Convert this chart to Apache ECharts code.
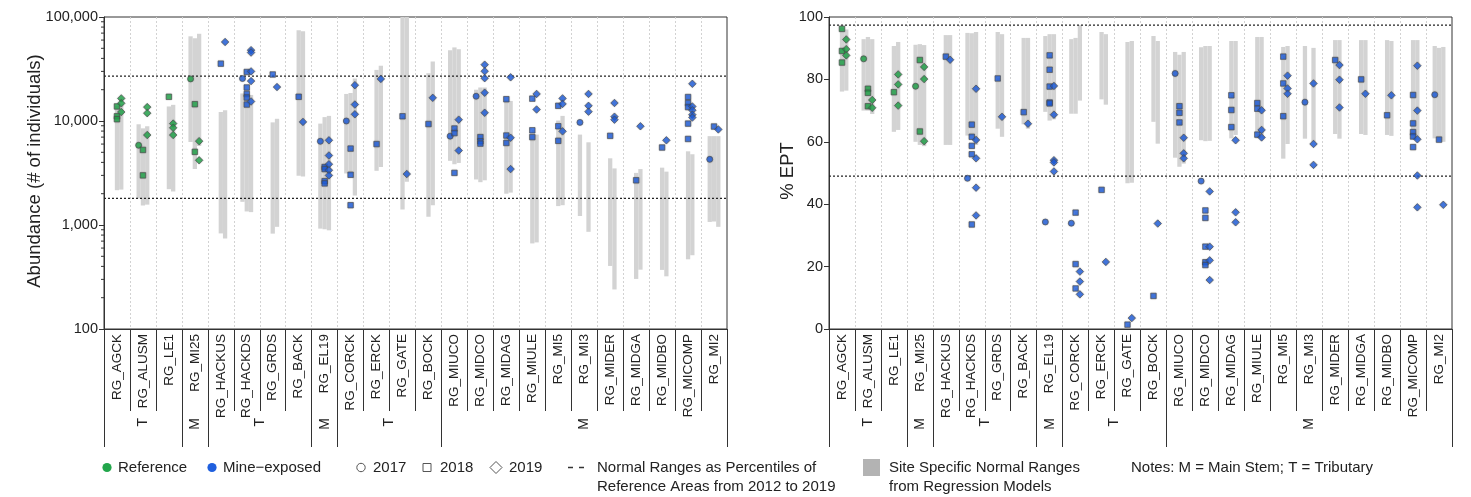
<!DOCTYPE html>
<html><head><meta charset="utf-8">
<script src="https://cdn.jsdelivr.net/npm/echarts@6/dist/echarts.min.js"></script>
<style>html,body{margin:0;padding:0;background:#fff}#c{width:1471px;height:497px}</style>
</head><body><div id="c"></div><script>
const SITES = ['RG_AGCK','RG_ALUSM','RG_LE1','RG_MI25','RG_HACKUS','RG_HACKDS','RG_GRDS','RG_BACK','RG_EL19','RG_CORCK','RG_ERCK','RG_GATE','RG_BOCK','RG_MIUCO','RG_MIDCO','RG_MIDAG','RG_MIULE','RG_MI5','RG_MI3','RG_MIDER','RG_MIDGA','RG_MIDBO','RG_MICOMP','RG_MI2'];
const REFERENCE_SITES = ['RG_AGCK','RG_ALUSM','RG_LE1','RG_MI25'];
const GROUP_LABELS = ['T','M','T','M','T','M'];
const GROUP_SIZES = [3,1,4,1,4,11];
const ABUND_TICKS = [100,1000,10000,100000];
const ABUND_MINOR_TICKS = [200,300,400,500,600,700,800,900,2000,3000,4000,5000,6000,7000,8000,9000,20000,30000,40000,50000,60000,70000,80000,90000];
const EPT_TICKS = [0,20,40,60,80,100];
const ABUND_PERCENTILES = [1800, 27000];
const EPT_PERCENTILES = [49.0, 97.4];

// points: [site, value]
const ABUND_2017 = [['RG_ALUSM',5840],['RG_MI25',25400],['RG_HACKDS',25600],['RG_EL19',6380],['RG_CORCK',10000],['RG_MIUCO',7150],['RG_MIDCO',17300],['RG_MI3',9700],['RG_MI2',4280]];
const ABUND_2018 = [['RG_AGCK',13800],['RG_AGCK',11100],['RG_AGCK',10400],['RG_ALUSM',5270],['RG_ALUSM',3000],['RG_LE1',17100],['RG_MI25',14500],['RG_MI25',5050],['RG_HACKUS',35600],['RG_HACKDS',29600],['RG_HACKDS',21000],['RG_HACKDS',18200],['RG_HACKDS',16800],['RG_HACKDS',14400],['RG_GRDS',28000],['RG_BACK',17100],['RG_EL19',3610],['RG_EL19',3450],['RG_EL19',2640],['RG_EL19',2510],['RG_CORCK',5430],['RG_CORCK',3040],['RG_CORCK',1550],['RG_ERCK',6000],['RG_GATE',11100],['RG_BOCK',9350],['RG_MIUCO',8470],['RG_MIUCO',7650],['RG_MIUCO',3170],['RG_MIDCO',7000],['RG_MIDCO',6380],['RG_MIDCO',6060],['RG_MIDAG',16200],['RG_MIDAG',7250],['RG_MIDAG',6150],['RG_MIULE',16400],['RG_MIULE',8140],['RG_MIULE',7000],['RG_MI5',14000],['RG_MI5',8900],['RG_MI5',6450],['RG_MIDER',7200],['RG_MIDGA',2690],['RG_MIDBO',5560],['RG_MICOMP',17000],['RG_MICOMP',14900],['RG_MICOMP',13600],['RG_MICOMP',9440],['RG_MICOMP',6720],['RG_MI2',8850]];
const ABUND_2019 = [['RG_AGCK',16500],['RG_AGCK',14800],['RG_AGCK',12200],['RG_ALUSM',13600],['RG_ALUSM',11900],['RG_ALUSM',7330],['RG_LE1',9440],['RG_LE1',8600],['RG_LE1',7330],['RG_MI25',6400],['RG_MI25',4190],['RG_HACKUS',57500],['RG_HACKDS',48000],['RG_HACKDS',45500],['RG_HACKDS',30000],['RG_HACKDS',24200],['RG_HACKDS',15400],['RG_GRDS',21200],['RG_BACK',9800],['RG_EL19',6520],['RG_EL19',4660],['RG_EL19',3840],['RG_EL19',3360],['RG_EL19',3000],['RG_CORCK',22100],['RG_CORCK',14400],['RG_CORCK',11600],['RG_ERCK',25400],['RG_GATE',3090],['RG_BOCK',16700],['RG_MIUCO',10300],['RG_MIUCO',5200],['RG_MIDCO',34800],['RG_MIDCO',30100],['RG_MIDCO',25800],['RG_MIDCO',18700],['RG_MIDCO',12000],['RG_MIDAG',26300],['RG_MIDAG',6900],['RG_MIDAG',3450],['RG_MIULE',18200],['RG_MIULE',12900],['RG_MI5',16500],['RG_MI5',14600],['RG_MI5',7950],['RG_MI3',18200],['RG_MI3',14000],['RG_MI3',12300],['RG_MIDER',14900],['RG_MIDER',11000],['RG_MIDER',10300],['RG_MIDGA',8900],['RG_MIDBO',6520],['RG_MICOMP',22800],['RG_MICOMP',13800],['RG_MICOMP',12700],['RG_MICOMP',11500],['RG_MICOMP',10800],['RG_MI2',8300]];

const EPT_2017 = [['RG_ALUSM',86.6],['RG_MI25',77.8],['RG_HACKDS',48.3],['RG_EL19',34.3],['RG_CORCK',33.9],['RG_MIUCO',81.9],['RG_MIDCO',47.4],['RG_MI3',72.7],['RG_MI2',75.1]];
const EPT_2018 = [['RG_AGCK',96.2],['RG_AGCK',89.1],['RG_AGCK',85.4],['RG_ALUSM',77.0],['RG_ALUSM',75.7],['RG_ALUSM',71.4],['RG_LE1',75.9],['RG_MI25',86.2],['RG_MI25',63.3],['RG_HACKUS',87.3],['RG_HACKDS',65.5],['RG_HACKDS',61.6],['RG_HACKDS',58.7],['RG_HACKDS',56.0],['RG_HACKDS',33.5],['RG_GRDS',80.3],['RG_BACK',69.5],['RG_EL19',87.7],['RG_EL19',83.1],['RG_EL19',77.7],['RG_EL19',72.6],['RG_EL19',72.3],['RG_CORCK',37.3],['RG_CORCK',20.8],['RG_CORCK',13.0],['RG_ERCK',44.6],['RG_GATE',1.4],['RG_BOCK',10.6],['RG_MIUCO',71.4],['RG_MIUCO',69.3],['RG_MIUCO',66.2],['RG_MIDCO',38.0],['RG_MIDCO',35.6],['RG_MIDCO',26.4],['RG_MIDCO',21.4],['RG_MIDCO',20.5],['RG_MIDAG',74.9],['RG_MIDAG',70.2],['RG_MIDAG',64.7],['RG_MIULE',72.4],['RG_MIULE',70.6],['RG_MIULE',62.3],['RG_MI5',87.3],['RG_MI5',78.7],['RG_MI5',68.2],['RG_MIDER',86.2],['RG_MIDGA',80.0],['RG_MIDBO',68.5],['RG_MICOMP',75.0],['RG_MICOMP',65.9],['RG_MICOMP',63.1],['RG_MICOMP',61.7],['RG_MICOMP',58.3],['RG_MI2',60.7]];
const EPT_2019 = [['RG_AGCK',92.8],['RG_AGCK',89.7],['RG_AGCK',87.7],['RG_ALUSM',73.4],['RG_ALUSM',70.9],['RG_LE1',81.6],['RG_LE1',78.4],['RG_LE1',71.6],['RG_MI25',84.0],['RG_MI25',80.1],['RG_MI25',60.2],['RG_HACKUS',86.3],['RG_HACKDS',77.0],['RG_HACKDS',60.6],['RG_HACKDS',54.7],['RG_HACKDS',45.3],['RG_HACKDS',36.4],['RG_GRDS',68.0],['RG_BACK',65.8],['RG_EL19',77.9],['RG_EL19',68.7],['RG_EL19',54.1],['RG_EL19',53.4],['RG_EL19',50.5],['RG_CORCK',18.4],['RG_CORCK',15.2],['RG_CORCK',11.1],['RG_ERCK',21.5],['RG_GATE',3.5],['RG_BOCK',33.8],['RG_MIUCO',61.3],['RG_MIUCO',56.3],['RG_MIUCO',54.7],['RG_MIDCO',44.1],['RG_MIDCO',26.4],['RG_MIDCO',22.0],['RG_MIDCO',15.7],['RG_MIDAG',60.5],['RG_MIDAG',37.4],['RG_MIDAG',34.2],['RG_MIULE',70.1],['RG_MIULE',63.8],['RG_MIULE',61.4],['RG_MI5',81.2],['RG_MI5',77.1],['RG_MI5',75.4],['RG_MI3',78.7],['RG_MI3',59.3],['RG_MI3',52.6],['RG_MIDER',84.6],['RG_MIDER',79.9],['RG_MIDER',71.0],['RG_MIDGA',75.4],['RG_MIDBO',74.9],['RG_MICOMP',84.4],['RG_MICOMP',70.0],['RG_MICOMP',60.8],['RG_MICOMP',49.2],['RG_MICOMP',39.0],['RG_MI2',39.8]];

// site specific normal ranges: [site, low, high]
const ABUND_RANGE_2017 = [['RG_ALUSM',1800,9300],['RG_MI25',6280,65200],['RG_HACKDS',1670,18400],['RG_EL19',923,9440],['RG_CORCK',3130,18200],['RG_MIUCO',4140,47900],['RG_MIDCO',2740,20000],['RG_MI3',1220,7400],['RG_MI2',1070,7150]];
const ABUND_RANGE_2018 = [['RG_AGCK',2160,14000],['RG_ALUSM',1540,8500],['RG_LE1',2210,13800],['RG_MI25',3450,62300],['RG_HACKUS',830,12200],['RG_HACKDS',1350,18200],['RG_GRDS',826,9700],['RG_BACK',2970,74500],['RG_EL19',910,10900],['RG_CORCK',3100,18600],['RG_ERCK',3320,31000],['RG_GATE',1410,100000],['RG_BOCK',1200,28800],['RG_MIUCO',3840,51000],['RG_MIDCO',2580,21000],['RG_MIDAG',2000,15800],['RG_MIULE',665,7400],['RG_MI5',1520,10100],['RG_MIDER',404,4380],['RG_MIDGA',303,3170],['RG_MIDBO',370,3560],['RG_MICOMP',468,5110],['RG_MI2',1080,7150]];
const ABUND_RANGE_2019 = [['RG_AGCK',2190,14500],['RG_ALUSM',1570,8900],['RG_LE1',2100,14300],['RG_MI25',5750,69000],['RG_HACKUS',740,12700],['RG_HACKDS',1330,17800],['RG_GRDS',960,10500],['RG_BACK',2930,73000],['RG_EL19',889,11200],['RG_CORCK',1920,25600],['RG_ERCK',3610,34000],['RG_GATE',2600,100000],['RG_BOCK',1550,37300],['RG_MIUCO',3950,49000],['RG_MIDCO',2690,21000],['RG_MIDAG',2050,15600],['RG_MIULE',680,7400],['RG_MI5',1550,11200],['RG_MI3',860,6240],['RG_MIDER',240,3500],['RG_MIDGA',372,3450],['RG_MIDBO',321,3260],['RG_MICOMP',512,4790],['RG_MI2',960,7150]];

const EPT_RANGE_2017 = [['RG_ALUSM',70.0,92.9],['RG_MI25',60.0,91.1],['RG_HACKDS',62.0,94.9],['RG_EL19',69.6,93.9],['RG_CORCK',69.0,92.9],['RG_MIUCO',54.9,88.8],['RG_MIDCO',60.5,90.3],['RG_MI3',61.0,90.7],['RG_MI2',61.1,90.7]];
const EPT_RANGE_2018 = [['RG_AGCK',76.1,96.5],['RG_ALUSM',70.0,93.6],['RG_LE1',63.2,90.7],['RG_MI25',59.0,91.3],['RG_HACKUS',59.0,94.2],['RG_HACKDS',61.8,94.8],['RG_GRDS',64.2,95.2],['RG_BACK',65.6,93.3],['RG_EL19',66.8,94.5],['RG_CORCK',69.0,93.3],['RG_ERCK',73.6,95.2],['RG_GATE',46.7,92.0],['RG_BOCK',66.4,93.9],['RG_MIUCO',52.0,87.9],['RG_MIDCO',60.2,90.7],['RG_MIDAG',61.1,92.3],['RG_MIULE',61.1,93.6],['RG_MI5',54.6,90.4],['RG_MIDER',62.5,92.6],['RG_MIDGA',62.5,92.6],['RG_MIDBO',62.2,92.6],['RG_MICOMP',60.9,92.6],['RG_MI2',60.3,90.1]];
const EPT_RANGE_2019 = [['RG_AGCK',76.4,96.0],['RG_ALUSM',68.9,92.9],['RG_LE1',63.8,92.0],['RG_MI25',58.6,91.0],['RG_HACKUS',59.0,94.2],['RG_HACKDS',59.0,95.2],['RG_GRDS',61.6,94.5],['RG_BACK',64.2,93.3],['RG_EL19',67.2,94.5],['RG_CORCK',73.2,97.4],['RG_ERCK',71.9,94.5],['RG_GATE',46.9,92.3],['RG_BOCK',59.4,92.3],['RG_MIUCO',53.0,88.8],['RG_MIDCO',60.3,90.7],['RG_MIDAG',62.2,92.3],['RG_MIULE',61.1,93.6],['RG_MI5',59.3,90.7],['RG_MI3',60.0,90.1],['RG_MIDER',61.0,92.6],['RG_MIDGA',62.2,92.6],['RG_MIDBO',61.9,92.3],['RG_MICOMP',60.6,92.6],['RG_MI2',60.0,90.4]];

// ---------- presentation ----------
const FONT = "'Liberation Sans', Arial, Helvetica, sans-serif";
const GREEN = '#22a64b', BLUE = '#1f5fde', BAR_GRAY = '#d3d3d3', INK = '#222';
const YEAR_OFFSET = {2017: -0.165, 2018: 0, 2019: 0.165};
const YEAR_SYMBOL = {2017: ['circle', 6], 2018: ['rect', 5.5], 2019: ['diamond', 7.5]};
const BAR_W = 0.165;
const N = SITES.length;

function siteX(name, year){ return SITES.indexOf(name) + 0.5 + YEAR_OFFSET[year]; }

const groupEdges = [0];
GROUP_SIZES.forEach(s => groupEdges.push(groupEdges[groupEdges.length-1] + s));
const groupCenters = GROUP_SIZES.map((s,i) => groupEdges[i] + s/2);
const siteBoundaries = SITES.slice(1).map((s,i) => i+1);
const siteCenters = SITES.map((s,i) => i + 0.5);

function xAxesFor(g){
  return [
    {type:'value', gridIndex:g, min:0, max:N, interval:1, position:'bottom',
     axisLine:{show:true, lineStyle:{color:'#333', width:1}}, axisTick:{show:false}, axisLabel:{show:false},
     splitLine:{show:true, showMinLine:false, showMaxLine:false, lineStyle:{color:'#d2d2d2', type:[2,2], width:1}}},
    {type:'value', gridIndex:g, min:0, max:N, position:'bottom', offset:0,
     axisLine:{show:false}, splitLine:{show:false},
     axisTick:{show:true, customValues: siteBoundaries, length:82, lineStyle:{color:'#333', width:1}},
     axisLabel:{show:true, customValues: siteCenters, rotate:90, margin:5, fontSize:13.5, fontFamily:FONT, color:INK,
       formatter: v => SITES[Math.floor(v)]}},
    {type:'value', gridIndex:g, min:0, max:N, position:'bottom', offset:0,
     axisLine:{show:false}, splitLine:{show:false},
     axisTick:{show:true, customValues: groupEdges, length:118, lineStyle:{color:'#333', width:1}},
     axisLabel:{show:true, customValues: groupCenters, rotate:90, margin:89, fontSize:14, fontFamily:FONT, color:INK,
       formatter: v => { const k = groupCenters.findIndex(c => Math.abs(c - v) < 1e-6); return k >= 0 ? GROUP_LABELS[k] : ''; }}}
  ];
}

function barSeries(g, ranges, year){
  return {type:'custom', xAxisIndex:g*3, yAxisIndex:g, clip:true, silent:true, z:1,
    encode:{x:0, y:[1,2]},
    data: ranges.map(r => [siteX(r[0], year), r[1], r[2]]),
    renderItem: (params, api) => {
      const x = api.value(0);
      const p1 = api.coord([x - BAR_W/2, api.value(2)]);
      const p2 = api.coord([x + BAR_W/2, api.value(1)]);
      return {type:'rect', shape:{x:p1[0], y:p1[1], width:p2[0]-p1[0], height:p2[1]-p1[1]}, style:{fill:BAR_GRAY}};
    }};
}
function pointSeries(g, pts, year){
  const [sym, size] = YEAR_SYMBOL[year];
  return {type:'scatter', xAxisIndex:g*3, yAxisIndex:g, symbol:sym, symbolSize:size, z:4, silent:true,
    itemStyle:{borderColor:'#4d4d4d', borderWidth:0.8, shadowColor:'rgba(0,0,0,0.25)', shadowBlur:1.5},
    data: pts.map(p => ({value:[siteX(p[0], year), p[1]], itemStyle:{color: REFERENCE_SITES.includes(p[0]) ? GREEN : BLUE}}))};
}
function refLineSeries(g, vals){
  return {type:'custom', xAxisIndex:g*3, yAxisIndex:g, clip:false, silent:true, z:3,
    encode:{x:0, y:1},
    data: vals.map(v => [0, v]),
    renderItem: (params, api) => {
      const a = api.coord([0, api.value(1)]), b = api.coord([N, api.value(1)]);
      return {type:'line', shape:{x1:a[0], y1:a[1], x2:b[0], y2:b[1]}, style:{stroke:'#222', lineWidth:1.2, lineDash:[2,2]}};
    }};
}
function minorTickSeries(g, vals){
  return {type:'custom', xAxisIndex:g*3, yAxisIndex:g, clip:false, silent:true, z:5,
    encode:{x:0, y:1},
    data: vals.map(v => [0, v]),
    renderItem: (params, api) => {
      const a = api.coord([0, api.value(1)]);
      return {type:'line', shape:{x1:a[0]-3, y1:a[1], x2:a[0], y2:a[1]}, style:{stroke:'#333', lineWidth:1}};
    }};
}

const series = [
  barSeries(0, ABUND_RANGE_2017, 2017), barSeries(0, ABUND_RANGE_2018, 2018), barSeries(0, ABUND_RANGE_2019, 2019),
  barSeries(1, EPT_RANGE_2017, 2017), barSeries(1, EPT_RANGE_2018, 2018), barSeries(1, EPT_RANGE_2019, 2019),
  refLineSeries(0, ABUND_PERCENTILES), refLineSeries(1, EPT_PERCENTILES),
  minorTickSeries(0, ABUND_MINOR_TICKS),
  pointSeries(0, ABUND_2017, 2017), pointSeries(0, ABUND_2018, 2018), pointSeries(0, ABUND_2019, 2019),
  pointSeries(1, EPT_2017, 2017), pointSeries(1, EPT_2018, 2018), pointSeries(1, EPT_2019, 2019)
];

const LT = {fontSize:15, fontFamily:FONT, fill:INK, verticalAlign:'middle'};
const graphic = [
  {type:'text', x:35, y:171, rotation:Math.PI/2, style:{text:'Abundance (# of individuals)', fontSize:18.5, fontFamily:FONT, fill:INK, align:'center', verticalAlign:'middle'}},
  {type:'text', x:788, y:171, rotation:Math.PI/2, style:{text:'% EPT', fontSize:18.5, fontFamily:FONT, fill:INK, align:'center', verticalAlign:'middle'}},
  {type:'circle', shape:{cx:107, cy:467.5, r:4.6}, style:{fill:GREEN}},
  {type:'text', x:118, y:467.5, style:Object.assign({text:'Reference'}, LT)},
  {type:'circle', shape:{cx:212, cy:467.5, r:4.6}, style:{fill:BLUE}},
  {type:'text', x:223, y:467.5, style:Object.assign({text:'Mine\u2212exposed'}, LT)},
  {type:'circle', shape:{cx:361, cy:467.5, r:4.2}, style:{fill:'none', stroke:'#555', lineWidth:1}},
  {type:'text', x:373, y:467.5, style:Object.assign({text:'2017'}, LT)},
  {type:'rect', shape:{x:423, y:463.5, width:8, height:8}, style:{fill:'none', stroke:'#555', lineWidth:1}},
  {type:'text', x:440, y:467.5, style:Object.assign({text:'2018'}, LT)},
  {type:'polygon', shape:{points:[[496,461.5],[502,467.5],[496,473.5],[490,467.5]]}, style:{fill:'none', stroke:'#555', lineWidth:1}},
  {type:'text', x:509, y:467.5, style:Object.assign({text:'2019'}, LT)},
  {type:'line', shape:{x1:568, y1:467.5, x2:573, y2:467.5}, style:{stroke:'#333', lineWidth:1.5}},
  {type:'line', shape:{x1:579, y1:467.5, x2:584, y2:467.5}, style:{stroke:'#333', lineWidth:1.5}},
  {type:'text', x:597, y:467.5, style:Object.assign({text:'Normal Ranges as Percentiles of'}, LT)},
  {type:'text', x:597, y:486.5, style:Object.assign({text:'Reference Areas from 2012 to 2019'}, LT)},
  {type:'rect', shape:{x:863, y:459, width:17, height:17}, style:{fill:'#b3b3b3'}},
  {type:'text', x:889, y:467.5, style:Object.assign({text:'Site Specific Normal Ranges'}, LT)},
  {type:'text', x:889, y:486.5, style:Object.assign({text:'from Regression Models'}, LT)},
  {type:'text', x:1131, y:467.5, style:Object.assign({text:'Notes: M = Main Stem; T = Tributary'}, LT)}
];

const option = {
  animation:false,
  backgroundColor:'#fff',
  textStyle:{fontFamily:FONT},
  grid:[
    {left:104, top:17, width:623, height:312, show:true, borderColor:'#333', borderWidth:1, backgroundColor:'transparent'},
    {left:829, top:17, width:623, height:312, show:true, borderColor:'#333', borderWidth:1, backgroundColor:'transparent'}
  ],
  xAxis: xAxesFor(0).concat(xAxesFor(1)),
  yAxis:[
    {type:'log', gridIndex:0, logBase:10, min:100, max:100000,
     axisLine:{show:true, lineStyle:{color:'#333'}},
     axisTick:{show:true, length:5, customValues:ABUND_TICKS, lineStyle:{color:'#333'}},
     axisLabel:{show:true, customValues:ABUND_TICKS, margin:6, fontSize:14.5, fontFamily:FONT, color:INK,
       formatter: v => Math.round(v).toLocaleString('en-US')},
     splitLine:{show:false}},
    {type:'value', gridIndex:1, min:0, max:100, interval:20,
     axisLine:{show:true, lineStyle:{color:'#333'}},
     axisTick:{show:true, length:5, lineStyle:{color:'#333'}},
     axisLabel:{show:true, margin:6, fontSize:14.5, fontFamily:FONT, color:INK},
     splitLine:{show:false}}
  ],
  series: series,
  graphic: graphic
};
const chart = echarts.init(document.getElementById('c'));
chart.setOption(option);
</script></body></html>
